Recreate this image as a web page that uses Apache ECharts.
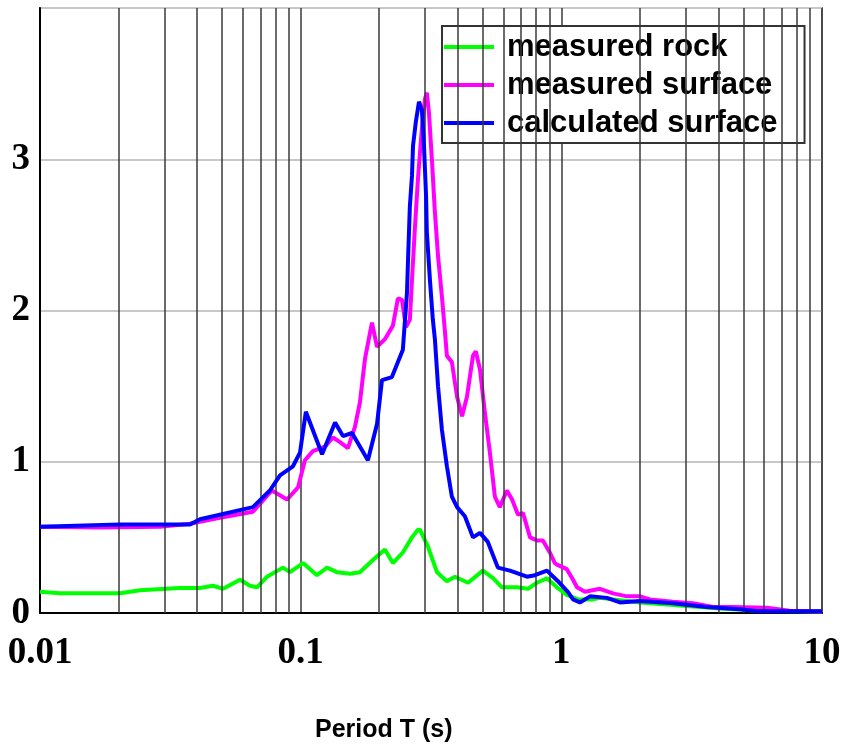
<!DOCTYPE html>
<html>
<head>
<meta charset="utf-8">
<script src="https://cdn.jsdelivr.net/npm/echarts@6/dist/echarts.min.js"></script>
<style>
html,body{margin:0;padding:0;background:#fff;}
#chart{width:854px;height:746px;}
</style>
</head>
<body>
<div id="chart"></div>
<script>
// ---- data ----
const seriesNames = ['measured rock', 'measured surface', 'calculated surface'];

const rockPeriod = [0.01,0.0119,0.017,0.0203,0.0242,0.0344,0.0411,0.0461,0.0504,0.0585,0.0639,0.068,0.0743,0.0855,0.091,0.1021,0.1155,0.1262,0.1378,0.1545,0.1687,0.1893,0.2104,0.2259,0.2466,0.2673,0.2818,0.2871,0.3076,0.3133,0.3334,0.3639,0.3908,0.4385,0.50,0.547,0.5916,0.6761,0.7447,0.8054,0.881,0.9616,1.05,1.159,1.321,1.406,2.003,2.851,4.055,5.78,10];
const rockValue  = [0.14,0.13,0.13,0.13,0.15,0.165,0.165,0.18,0.16,0.22,0.18,0.17,0.24,0.30,0.27,0.33,0.25,0.30,0.27,0.26,0.27,0.35,0.42,0.33,0.40,0.50,0.55,0.55,0.44,0.40,0.27,0.21,0.24,0.20,0.28,0.23,0.17,0.17,0.16,0.20,0.23,0.17,0.12,0.09,0.09,0.10,0.07,0.05,0.03,0.015,0.01];

const surfPeriod = [0.01,0.017,0.0289,0.0376,0.049,0.0656,0.0776,0.0886,0.0977,0.1038,0.1114,0.1239,0.133,0.1415,0.1518,0.1615,0.1687,0.1765,0.1877,0.1963,0.2104,0.2259,0.2361,0.2447,0.2535,0.2624,0.2673,0.2742,0.2818,0.2917,0.2999,0.3048,0.3105,0.3192,0.3273,0.3365,0.3483,0.3581,0.3639,0.3802,0.3981,0.4159,0.4345,0.4581,0.4699,0.4875,0.5093,0.5321,0.5559,0.5808,0.618,0.6471,0.6823,0.7129,0.7586,0.8054,0.8492,0.9036,0.9441,0.9616,1.05,1.109,1.148,1.233,1.406,1.578,1.786,2.003,2.188,2.681,3.199,3.818,4.55,6.15,7.5,10];
const surfValue  = [0.57,0.565,0.57,0.59,0.63,0.67,0.81,0.75,0.83,1.01,1.07,1.10,1.16,1.13,1.09,1.23,1.39,1.68,1.92,1.76,1.81,1.90,2.08,2.07,1.89,1.94,2.20,2.54,2.87,3.20,3.40,3.44,3.31,2.98,2.65,2.36,2.09,1.85,1.70,1.66,1.43,1.30,1.43,1.70,1.73,1.61,1.32,1.06,0.77,0.70,0.81,0.75,0.65,0.66,0.50,0.48,0.48,0.40,0.33,0.32,0.29,0.22,0.17,0.14,0.16,0.13,0.11,0.11,0.09,0.075,0.065,0.04,0.04,0.035,0.015,0.01];

const calcPeriod = [0.01,0.0203,0.0376,0.0411,0.0656,0.0762,0.0833,0.0934,0.0994,0.1047,0.1208,0.1355,0.1453,0.1574,0.1811,0.1963,0.2051,0.2239,0.2466,0.2558,0.2582,0.2624,0.2673,0.2698,0.2767,0.2844,0.2917,0.2972,0.3027,0.3048,0.3133,0.3214,0.3273,0.3365,0.3483,0.3639,0.3802,0.3981,0.4266,0.4581,0.4875,0.5224,0.571,0.635,0.738,0.792,0.881,0.9705,1.059,1.109,1.178,1.288,1.496,1.679,2.003,2.681,3.616,4.842,5.675,10];
const calcValue  = [0.57,0.585,0.585,0.62,0.70,0.81,0.91,0.97,1.06,1.33,1.05,1.26,1.17,1.19,1.01,1.25,1.54,1.56,1.74,2.12,2.34,2.69,2.89,3.09,3.25,3.38,3.33,3.09,2.76,2.52,2.20,1.94,1.81,1.50,1.21,0.97,0.77,0.70,0.64,0.50,0.53,0.47,0.30,0.28,0.24,0.25,0.28,0.21,0.14,0.09,0.07,0.11,0.10,0.07,0.08,0.065,0.04,0.025,0.012,0.012];

const xTickLabels = ['0.01','0.1','1','10'];
const yTickLabels = ['0','1','2','3'];
const minorGridPeriods = [0.02,0.03,0.04,0.05,0.06,0.07,0.08,0.09,0.2,0.3,0.4,0.5,0.6,0.7,0.8,0.9,2,3,4,5,6,7,8,9];
const seriesColors = ['#00ff00', '#ff00ff', '#0000ff'];

function pairs(p, v) { return p.map((x, i) => [x, v[i]]); }

const chart = echarts.init(document.getElementById('chart'), null, {renderer: 'canvas'});
const serifFont = '"Liberation Serif","Times New Roman",serif';
const sansFont = '"Liberation Sans",Arial,sans-serif';

const lineSeries = [
  pairs(rockPeriod, rockValue),
  pairs(surfPeriod, surfValue),
  pairs(calcPeriod, calcValue)
].map((d, i) => ({
  name: seriesNames[i],
  type: 'line',
  data: d,
  showSymbol: false,
  symbol: 'none',
  z: 3 + i,
  lineStyle: {color: seriesColors[i], width: 4},
  itemStyle: {color: seriesColors[i]},
  animation: false
}));

chart.setOption({
  backgroundColor: '#ffffff',
  animation: false,
  title: {
    text: 'Period T (s)',
    left: 315,
    top: 718,
    padding: 0,
    textStyle: {fontFamily: sansFont, fontWeight: 'bold', fontSize: 25, color: '#000'}
  },
  grid: {
    left: 40, right: 32, top: 8, bottom: 133,
    show: true, borderColor: '#808080', borderWidth: 2, backgroundColor: '#fff'
  },
  legend: {
    data: seriesNames,
    orient: 'vertical',
    left: 442,
    top: 26,
    padding: [5, 27, 4, 2],
    itemGap: 6,
    itemWidth: 50,
    itemHeight: 20,
    backgroundColor: '#fff',
    borderColor: '#333',
    borderWidth: 2,
    borderRadius: 0,
    icon: 'path://M0,8 L50,8 L50,12 L0,12 Z',
    textStyle: {fontFamily: sansFont, fontWeight: 'bold', fontSize: 31, color: '#000', lineHeight: 32, padding: [0,0,0,8]}
  },
  xAxis: {
    type: 'log',
    logBase: 10,
    min: 0.01,
    max: 10,
    axisLine: {show: true, onZero: false, lineStyle: {color: '#000', width: 2}},
    axisTick: {show: false},
    splitLine: {show: true, lineStyle: {color: '#3a3a3a', width: 1.5}},
    axisLabel: {
      margin: 22,
      fontFamily: serifFont, fontWeight: 'bold', fontSize: 37, color: '#000',
      formatter: function (v) {
        const s = xTickLabels.find(t => Math.abs(parseFloat(t) - v) / v < 1e-6);
        return s || '';
      }
    }
  },
  yAxis: {
    type: 'value',
    min: 0,
    max: 4,
    interval: 1,
    axisLine: {show: true, lineStyle: {color: '#000', width: 2}},
    axisTick: {show: false},
    splitLine: {show: true, lineStyle: {color: '#c8c8c8', width: 2}},
    axisLabel: {
      margin: 10,
      fontFamily: serifFont, fontWeight: 'bold', fontSize: 37, color: '#000',
      formatter: function (v) { return yTickLabels.indexOf(String(v)) >= 0 ? String(v) : ''; }
    }
  },
  series: [{
    name: 'grid-minor',
    type: 'line',
    data: [],
    z: 1,
    silent: true,
    markLine: {
      silent: true,
      symbol: ['none', 'none'],
      label: {show: false},
      animation: false,
      lineStyle: {color: '#3a3a3a', width: 1.5, type: 'solid'},
      emphasis: {disabled: true},
      data: minorGridPeriods.map(p => ({xAxis: p}))
    }
  }].concat(lineSeries)
});
</script>
</body>
</html>
